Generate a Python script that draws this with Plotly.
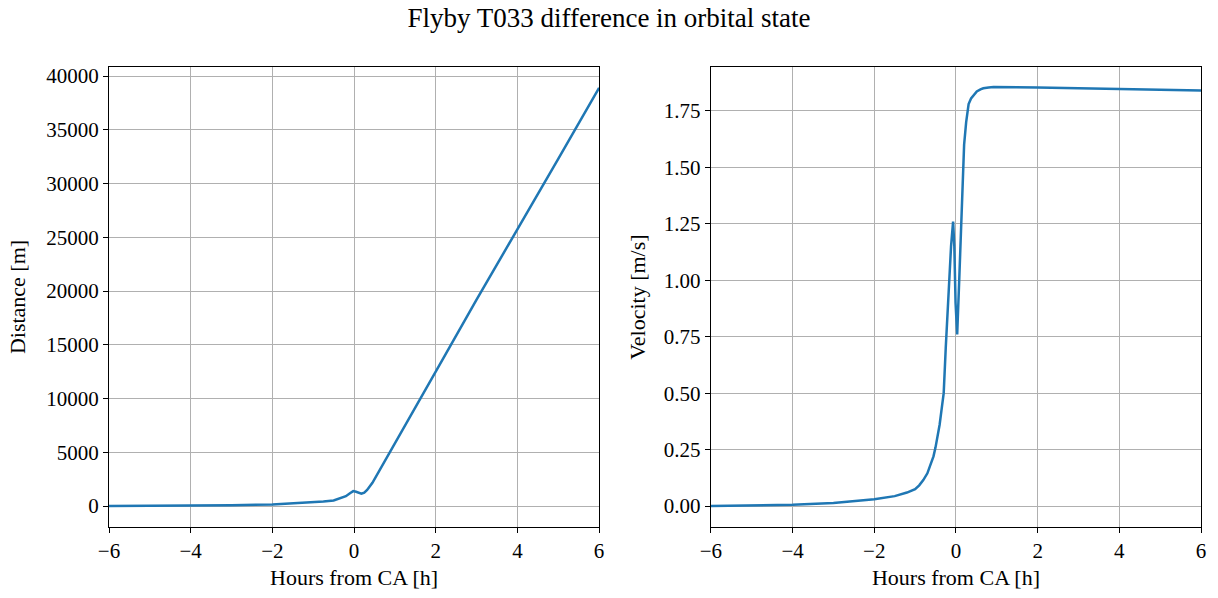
import plotly.graph_objects as go
from plotly.subplots import make_subplots

# Distance difference [m] vs hours from CA
hours_dist = [-6, -5, -4, -3, -2, -1.5, -1, -0.75, -0.5, -0.3, -0.2, -0.1, -0.02, 0.05, 0.12,
              0.18, 0.25, 0.32, 0.45, 0.86, 1.63, 2.16, 3.0, 4.0, 5.0, 6.0]
distance = [0, 10, 40, 80, 150, 230, 330, 420, 520, 740, 920, 1200, 1390, 1330, 1200,
            1150, 1250, 1500, 2170, 4940, 10000, 13580, 19200, 25700, 32300, 38900]

# Velocity difference [m/s] vs hours from CA
hours_vel = [-6, -5, -4, -3, -2, -1.5, -1.2, -1, -0.9, -0.8, -0.7, -0.63, -0.55, -0.5, -0.45,
             -0.4, -0.35, -0.3, -0.25, -0.18, -0.12, -0.07, -0.04, -0.01, 0.03, 0.08, 0.15,
             0.2, 0.25, 0.31, 0.37, 0.43, 0.51, 0.6, 0.67, 0.8, 0.92, 2.0, 4.0, 6.0]
velocity = [0.0, 0.002, 0.006, 0.014, 0.03, 0.044, 0.06, 0.075, 0.092, 0.115, 0.145, 0.18,
             0.22, 0.26, 0.305, 0.36, 0.43, 0.5, 0.7, 0.97, 1.15, 1.26, 1.15, 0.9, 0.76, 1.0,
             1.38, 1.6, 1.7, 1.78, 1.805, 1.82, 1.836, 1.845, 1.85, 1.853, 1.855, 1.853,
             1.848, 1.840]

x_ticks = [-6, -4, -2, 0, 2, 4, 6]
dist_ticks = [0, 5000, 10000, 15000, 20000, 25000, 30000, 35000, 40000]
vel_ticks = [0.0, 0.25, 0.5, 0.75, 1.0, 1.25, 1.5, 1.75]

FONT = "Liberation Serif"
BLUE = "#1f77b4"

fig = make_subplots(rows=1, cols=2, horizontal_spacing=0.1024)
fig.add_trace(go.Scatter(x=hours_dist, y=distance, mode="lines",
                         line=dict(color=BLUE, width=2.5), showlegend=False), row=1, col=1)
fig.add_trace(go.Scatter(x=hours_vel, y=velocity, mode="lines",
                         line=dict(color=BLUE, width=2.5), showlegend=False), row=1, col=2)

axis_common = dict(showline=True, linecolor="black", linewidth=1.2, mirror=True,
                   ticks="outside", ticklen=5, tickcolor="black", tickwidth=1,
                   showgrid=True, gridcolor="#b0b0b0", gridwidth=1, zeroline=False,
                   tickfont=dict(family=FONT, size=21, color="black"))

fig.update_xaxes(**axis_common, range=[-6, 6], tickvals=x_ticks,
                 ticktext=[("\u2212" + str(-t)) if t < 0 else str(t) for t in x_ticks],
                 title=dict(text="Hours from CA [h]", font=dict(family=FONT, size=22, color="black"),
                            standoff=7))
fig.update_yaxes(**axis_common)
fig.update_yaxes(range=[-1945, 40845], tickvals=dist_ticks,
                 ticktext=[str(t) for t in dist_ticks],
                 title=dict(text="Distance [m]", font=dict(family=FONT, size=22, color="black"),
                            standoff=14), row=1, col=1)
fig.update_yaxes(range=[-0.0926, 1.944], tickvals=vel_ticks,
                 ticktext=["%.2f" % t for t in vel_ticks],
                 title=dict(text="Velocity [m/s]", font=dict(family=FONT, size=22, color="black"),
                            standoff=12), row=1, col=2)

fig.update_layout(
    width=1218, height=598,
    margin=dict(l=109, r=14, t=67, b=70),
    paper_bgcolor="white", plot_bgcolor="white",
    title=dict(text="Flyby T033 difference in orbital state", x=0.5, xanchor="center",
               y=0.97, yanchor="middle", font=dict(family=FONT, size=27, color="black")),
)

fig.write_html("out.html")
